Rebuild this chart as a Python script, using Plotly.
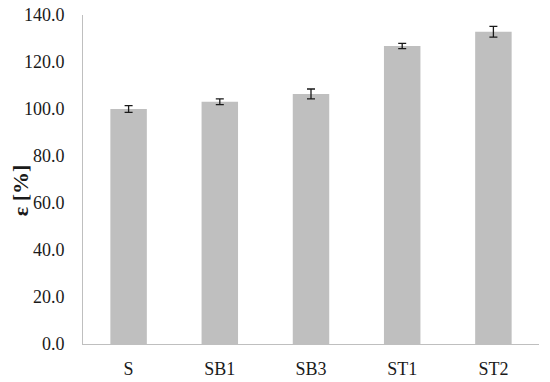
import plotly.graph_objects as go

categories = ["S", "SB1", "SB3", "ST1", "ST2"]
values = [100.0, 103.1, 106.4, 126.8, 132.9]
errors = [1.4, 1.2, 2.1, 1.1, 2.3]
y_ticks = [0, 20, 40, 60, 80, 100, 120, 140]
y_tick_labels = [f"{v:.1f}" for v in y_ticks]

fig = go.Figure(go.Bar(
    x=categories, y=values,
    marker=dict(color="#bfbfbf", line=dict(width=0)),
    error_y=dict(type="data", array=errors, color="#1a1a1a", thickness=1.3, width=4),
))

FAM = "Liberation Serif"
font = dict(family=FAM, size=18, color="#1a1a1a")
L, T = 75, 7
W, H = 542, 374
fig.update_layout(
    width=W, height=H,
    margin=dict(l=L, r=11, t=T, b=38, autoexpand=False),
    paper_bgcolor="white", plot_bgcolor="white",
    bargap=0.6, showlegend=False,
    font=font,
)
fig.update_xaxes(showline=True, linecolor="#bfbfbf", linewidth=1, showgrid=False, automargin=False,
                 ticks="outside", ticklen=8, tickcolor="rgba(0,0,0,0)", tickfont=font)
fig.update_yaxes(range=[0, 140], tickvals=y_ticks, ticktext=y_tick_labels, automargin=False,
                 showline=True, linecolor="#bfbfbf", linewidth=1, showgrid=False,
                 zeroline=False, ticks="outside", ticklen=14, tickcolor="rgba(0,0,0,0)",
                 tickfont=font, ticklabeloverflow="allow")
fig.add_annotation(text="<b>ε [%]</b>", textangle=-90, showarrow=False,
                   xref="paper", yref="paper", x=-0.137, y=0.466,
                   xanchor="center", yanchor="middle",
                   font=dict(family=FAM, size=22, color="#1a1a1a"))

fig.write_html("out.html")
